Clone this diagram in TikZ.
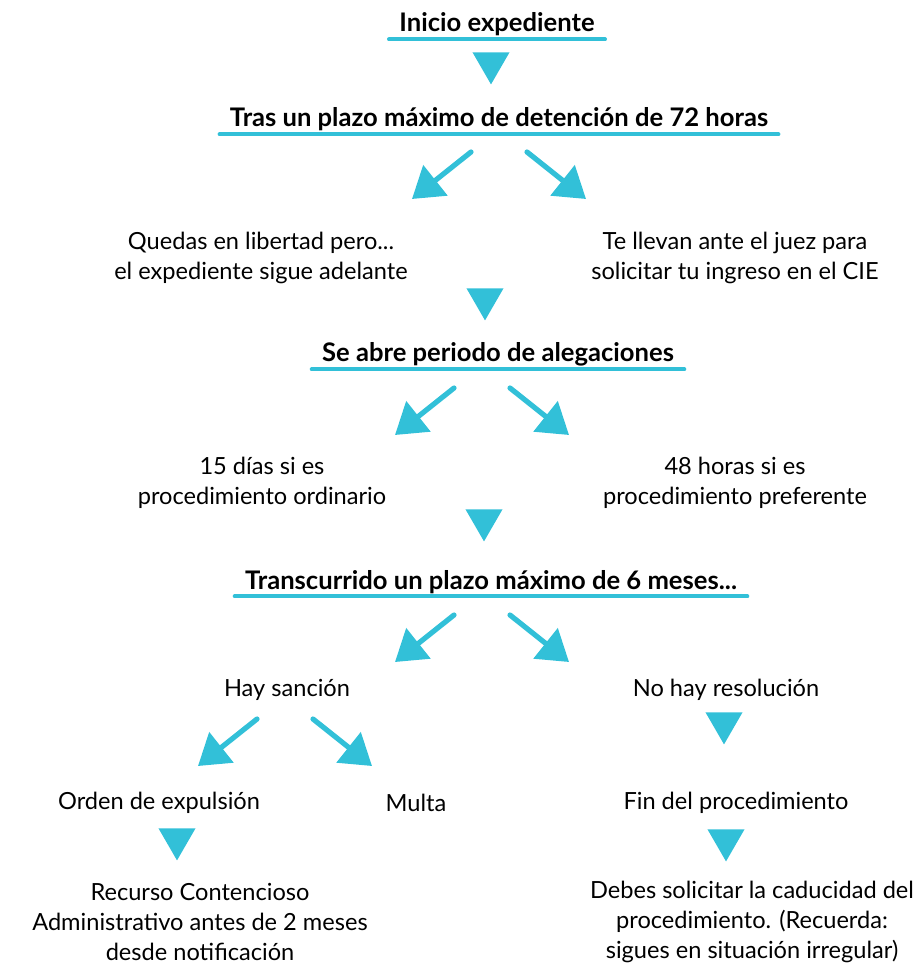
\documentclass[tikz,border=0pt]{standalone}
\usepackage{fontspec}
\setmainfont{Lato}
\usetikzlibrary{arrows.meta}
\usetikzlibrary{shapes.geometric}
\definecolor{cian}{RGB}{50,192,216}

\begin{document}
\begin{tikzpicture}[line cap=round,line join=round,x=0.5pt,y=-0.5pt,
  >={Triangle[length=15pt,width=19pt]},
  titulo/.style={font=\bfseries\fontsize{12.8}{15}\selectfont,anchor=base,inner xsep=5pt,inner ysep=1pt,text depth=2.5pt},
  texto/.style={font=\fontsize{11.8}{15}\selectfont,align=center},
  flecha/.style={->,cian,line width=2.6pt},
  subrayado/.style={cian,line width=2pt},
  bajada/.style={regular polygon,regular polygon sides=3,shape border rotate=180,fill=cian,inner sep=0pt,minimum size=21.4pt}]
\useasboundingbox (0,0) rectangle (922,967);
% titulos subrayados
\node [titulo] (inicio) at (497,32) {Inicio expediente};
\node [titulo] (tras) at (499,127) {Tras un plazo máximo de detención de 72 horas};
\node [titulo] (abre) at (498,362) {Se abre periodo de alegaciones};
\node [titulo] (transc) at (491,589) {Transcurrido un plazo máximo de 6 meses...};
\foreach \t in {inicio,tras,abre,transc}
  \draw [subrayado] (\t.south west) -- (\t.south east);
% textos
\node [texto] (libertad) at (261,258) {Quedas en libertad pero...\\el expediente sigue adelante};
\node [texto] (juez) at (735,258) {Te llevan ante el juez para\\solicitar tu ingreso en el CIE};
\node [texto] (ordinario) at (262,483) {15 días si es\\procedimiento ordinario};
\node [texto] (preferente) at (735,483) {48 horas si es\\procedimiento preferente};
\node [texto] (sancion) at (287,690) {Hay sanción};
\node [texto] (noresol) at (726,690) {No hay resolución};
\node [texto] (expulsion) at (159,803) {Orden de expulsión};
\node [texto] (multa) at (416,803) {Multa};
\node [texto] (fin) at (736,803) {Fin del procedimiento};
\node [texto] (recurso) at (200,922) {Recurso Contencioso\\Administrativo antes de 2 meses\\desde notificación};
\node [texto] (caducidad) at (752,922) {Debes solicitar la caducidad del\\procedimiento. (Recuerda:\\sigues en situación irregular)};
% triangulos
\node [bajada] (t1) at (491,63) {};
\node [bajada] (t2) at (485,299) {};
\node [bajada] (t3) at (484,520) {};
\node [bajada] (t4) at (724,723) {};
\node [bajada] (t5) at (177,839) {};
\node [bajada] (t6) at (726,840) {};
% flechas diagonales
\foreach \n/\m/\y in {a/499/152,b/482/388,c/482/615,d/285/719}{
  \coordinate (\n-iz) at (\m-28,\y);
  \coordinate (\n-izf) at (\m-87,\y+47);
  \coordinate (\n-de) at (\m+28,\y);
  \coordinate (\n-def) at (\m+87,\y+47);
  \draw [flecha] (\n-iz) -- (\n-izf);
  \draw [flecha] (\n-de) -- (\n-def);
}
\end{tikzpicture}
\end{document}
